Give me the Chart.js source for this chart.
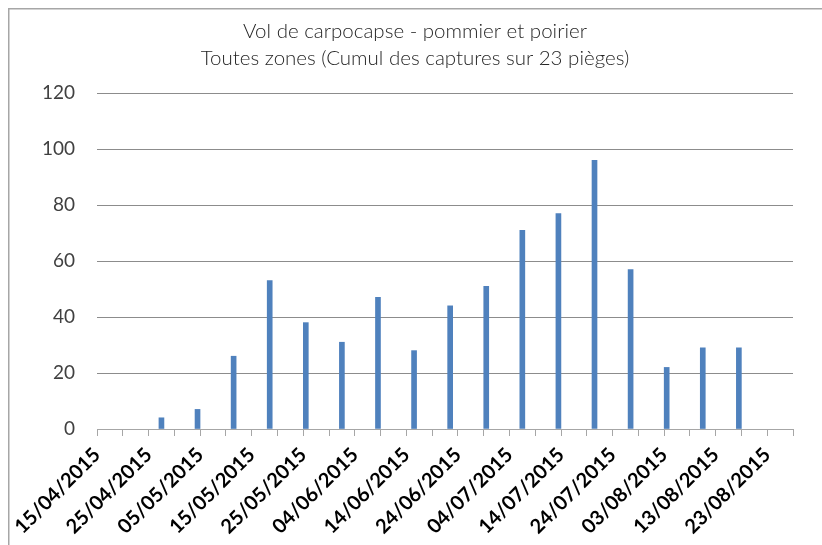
<!DOCTYPE html>
<html>
<head>
<meta charset="utf-8">
<script src="https://cdn.jsdelivr.net/npm/chart.js@4"></script>
<style>
html,body{margin:0;padding:0;background:#fff;}
#wrap{position:relative;width:822px;height:545px;}
</style>
</head>
<body>
<div id="wrap"><canvas id="c" width="822" height="545"></canvas></div>
<script>
const titleLines = ['Vol de carpocapse - pommier et poirier', 'Toutes zones (Cumul des captures sur 23 pièges)'];
const captureDates = ['27/04/2015','04/05/2015','11/05/2015','18/05/2015','25/05/2015','01/06/2015','08/06/2015','15/06/2015','22/06/2015','29/06/2015','06/07/2015','13/07/2015','20/07/2015','27/07/2015','03/08/2015','10/08/2015','17/08/2015'];
const captures = [4, 7, 26, 53, 38, 31, 47, 28, 44, 51, 71, 77, 96, 57, 22, 29, 29];
const xTickLabels = ['15/04/2015','25/04/2015','05/05/2015','15/05/2015','25/05/2015','04/06/2015','14/06/2015','24/06/2015','04/07/2015','14/07/2015','24/07/2015','03/08/2015','13/08/2015','23/08/2015'];
const yTicks = [0, 20, 40, 60, 80, 100, 120];

const startDate = Date.UTC(2015, 3, 15);
function dayIndex(s) {
  const [d, m, y] = s.split('/').map(Number);
  return Math.round((Date.UTC(y, m - 1, d) - startDate) / 86400000);
}
const points = captureDates.map((d, i) => ({ x: dayIndex(d) + 0.5, y: captures[i] }));

const borderPlugin = {
  id: 'outerBorder',
  afterDraw(chart) {
    const ctx = chart.ctx;
    ctx.save();
    ctx.strokeStyle = '#a6a6a6';
    ctx.lineWidth = 1.5;
    ctx.beginPath();
    ctx.moveTo(8.75, 545);
    ctx.lineTo(8.75, 8.75);
    ctx.lineTo(822, 8.75);
    ctx.stroke();
    ctx.restore();
  }
};

new Chart(document.getElementById('c'), {
  type: 'bar',
  data: {
    datasets: [{
      data: points,
      backgroundColor: '#4F81BD',
      barThickness: 5
    }]
  },
  plugins: [borderPlugin],
  options: {
    responsive: false,
    animation: false,
    layout: { padding: { left: 37, right: 29, top: 0, bottom: 0 } },
    plugins: {
      legend: { display: false },
      tooltip: { enabled: false },
      title: {
        display: true,
        text: titleLines,
        color: '#262626',
        font: { family: 'Lato', size: 20.5, weight: '300', lineHeight: 1.32 },
        padding: { top: 18, bottom: 21 }
      }
    },
    scales: {
      x: {
        type: 'linear',
        min: 0,
        max: 135,
        offset: false,
        grid: { display: true, drawOnChartArea: false, drawTicks: true, tickLength: 7, color: '#a6a6a6', offset: false },
        border: { display: true, color: '#a6a6a6', width: 1 },
        ticks: {
          stepSize: 5,
          autoSkip: false,
          minRotation: 45,
          maxRotation: 45,
          padding: 7,
          color: '#000',
          font: { family: 'Lato', size: 20, weight: 'bold' },
          callback: (v) => (v % 10 === 0 ? (xTickLabels[v / 10] || '') : '')
        },
        afterFit(s) { s.height = 116; s.paddingLeft = 0; s.paddingRight = 0; }
      },
      y: {
        min: 0,
        max: 120,
        grid: { color: '#8c8c8c', drawTicks: false, lineWidth: 1 },
        border: { display: false },
        afterBuildTicks(s) { s.ticks = yTicks.map(v => ({ value: v })); },
        ticks: {
          padding: 22,
          color: '#404040',
          font: { family: 'Lato', size: 19 }
        },
        afterFit(s) { s.width = 60; }
      }
    }
  }
});
</script>
</body>
</html>
